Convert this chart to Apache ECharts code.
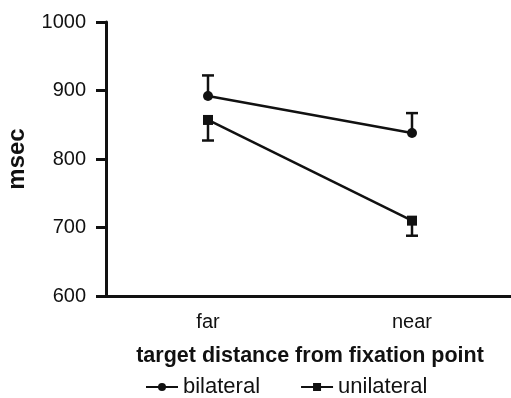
<!DOCTYPE html>
<html><head><meta charset="utf-8">
<script src="https://cdn.jsdelivr.net/npm/echarts@6/dist/echarts.min.js"></script>
<style>html,body{margin:0;padding:0;background:#fff}#c{width:511px;height:398px}</style>
</head><body><div id="c"></div>
<script>
var categories = ['far', 'near'];
var bilateralMean = [892, 838];
var bilateralErr = [30, 29];
var unilateralMean = [857, 710];
var unilateralErr = [30, 22];
var yTicks = [600, 700, 800, 900, 1000];

var chart = echarts.init(document.getElementById('c'));
var font = 'Liberation Sans, Arial, sans-serif';

function errSeries(means, errs, dir) {
  return {
    type: 'custom',
    silent: true,
    z: 1,
    data: means.map(function (m, i) { return [i, m, m + dir * errs[i]]; }),
    renderItem: function (params, api) {
      var p0 = api.coord([api.value(0), api.value(1)]);
      var p1 = api.coord([api.value(0), api.value(2)]);
      var hw = 6;
      return {
        type: 'group',
        children: [
          { type: 'line', shape: { x1: p0[0], y1: p0[1], x2: p1[0], y2: p1[1] }, style: { stroke: '#111', lineWidth: 2.5 } },
          { type: 'line', shape: { x1: p1[0] - hw, y1: p1[1], x2: p1[0] + hw, y2: p1[1] }, style: { stroke: '#111', lineWidth: 2.5 } }
        ]
      };
    }
  };
}

chart.setOption({
  animation: false,
  grid: { left: 106, top: 22, width: 408, height: 274, containLabel: false, outerBoundsMode: 'none' },
  legend: {
    top: 371,
    left: 140,
    itemWidth: 32,
    itemHeight: 10,
    itemGap: 40,
    textStyle: { fontFamily: font, fontSize: 22, color: '#111' },
    data: ['bilateral', 'unilateral']
  },
  xAxis: {
    type: 'category',
    data: categories,
    name: 'target distance from fixation point',
    nameLocation: 'middle',
    nameGap: 49,
    nameTextStyle: { fontFamily: font, fontSize: 21.5, fontWeight: 'bold', color: '#111' },
    axisLine: { lineStyle: { color: '#111', width: 3 } },
    axisTick: { alignWithLabel: true, length: 8, lineStyle: { color: '#111', width: 3 } },
    axisLabel: { fontFamily: font, fontSize: 20, color: '#111', margin: 16 }
  },
  yAxis: {
    type: 'value',
    min: yTicks[0],
    max: yTicks[yTicks.length - 1],
    interval: 100,
    name: 'msec',
    nameLocation: 'middle',
    nameGap: 77,
    nameTextStyle: { fontFamily: font, fontSize: 24, fontWeight: 'bold', color: '#111' },
    splitLine: { show: false },
    axisLine: { show: true, lineStyle: { color: '#111', width: 3 } },
    axisTick: { show: true, length: 10, lineStyle: { color: '#111', width: 3 } },
    axisLabel: { fontFamily: font, fontSize: 20, color: '#111', margin: 20, formatter: function (v) { return String(v); } }
  },
  series: [
    {
      name: 'bilateral', type: 'line', data: bilateralMean,
      symbol: 'circle', symbolSize: 10, z: 3,
      lineStyle: { color: '#111', width: 2.5 }, itemStyle: { color: '#111' }
    },
    {
      name: 'unilateral', type: 'line', data: unilateralMean,
      symbol: 'rect', symbolSize: 10, z: 3,
      lineStyle: { color: '#111', width: 2.5 }, itemStyle: { color: '#111' }
    },
    errSeries(bilateralMean, bilateralErr, 1),
    errSeries(unilateralMean, unilateralErr, -1)
  ]
});
</script></body></html>
